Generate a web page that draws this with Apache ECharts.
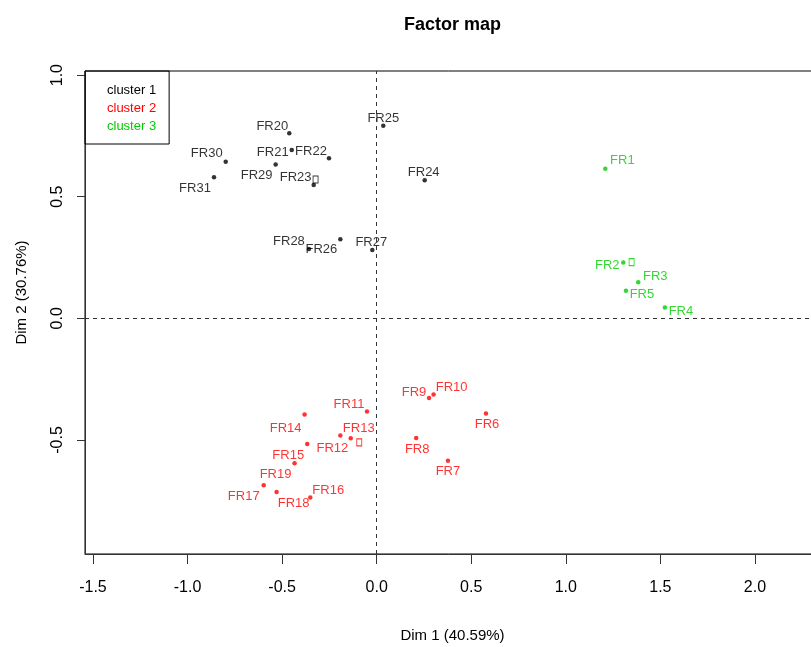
<!DOCTYPE html>
<html lang="en">
<head>
    <meta charset="UTF-8">
    <title>Factor map</title>
    <script src="https://cdn.jsdelivr.net/npm/echarts@6/dist/echarts.min.js"></script>
    <style>
        html, body {margin: 0; padding: 0; background: #fff;}
        #main {width: 811px; height: 647px;}
    </style>
</head>
<body>
<div id="main"></div>
<script>
    // cluster 1
    var names1 = ['FR20', 'FR21', 'FR22', 'FR23', 'FR24', 'FR25', 'FR26', 'FR27', 'FR28', 'FR29', 'FR30', 'FR31'];
    var dim1_1 = [-0.462, -0.449, -0.252, -0.333, 0.254, 0.035, -0.192, -0.023, -0.358, -0.534, -0.798, -0.860];
    var dim2_1 = [0.761, 0.692, 0.658, 0.548, 0.568, 0.792, 0.325, 0.281, 0.285, 0.633, 0.644, 0.580];
    // cluster 2
    var names2 = ['FR6', 'FR7', 'FR8', 'FR9', 'FR10', 'FR11', 'FR12', 'FR13', 'FR14', 'FR15', 'FR16', 'FR17', 'FR18', 'FR19'];
    var dim1_2 = [0.578, 0.377, 0.209, 0.277, 0.301, -0.051, -0.192, -0.137, -0.381, -0.367, -0.351, -0.597, -0.529, -0.434];
    var dim2_2 = [-0.391, -0.586, -0.492, -0.328, -0.313, -0.383, -0.482, -0.493, -0.395, -0.517, -0.737, -0.686, -0.714, -0.596];
    // cluster 3
    var names3 = ['FR1', 'FR2', 'FR3', 'FR4', 'FR5'];
    var dim1_3 = [1.209, 1.304, 1.383, 1.524, 1.318];
    var dim2_3 = [0.615, 0.230, 0.148, 0.045, 0.113];
    // cluster centres (squares)
    var centreDim1 = [-0.323, -0.092, 1.348];
    var centreDim2 = [0.571, -0.510, 0.231];

    var clusterNames = ['cluster 1', 'cluster 2', 'cluster 3'];
    var xTicks = [-1.5, -1.0, -0.5, 0.0, 0.5, 1.0, 1.5, 2.0];
    var yTicks = [-0.5, 0.0, 0.5, 1.0];

    var colors = ['#000000', '#ff0000', '#00cd00'];
    var font = 'Liberation Sans, Arial, sans-serif';

    // where each label sits relative to its point (px)
    var labelPos = {
        FR20: [-17, -7], FR21: [-19, 2], FR22: [-18, -7], FR23: [-18, -8], FR24: [-1, -8],
        FR25: [0, -7], FR26: [-19, 10], FR27: [-1, -8], FR28: [-20, -8], FR29: [-19, 11],
        FR30: [-19, -8], FR31: [-19, 11],
        FR6: [1, 11], FR7: [0, 11], FR8: [1, 11], FR9: [-15, -6], FR10: [18, -7],
        FR11: [-18, -7], FR12: [-8, 13], FR13: [8, -10], FR14: [-19, 14], FR15: [-19, 11],
        FR16: [18, -7], FR17: [-20, 11], FR18: [17, 11], FR19: [-19, 11],
        FR1: [17, -8], FR2: [-16, 3], FR3: [17, -6], FR4: [16, 4], FR5: [16, 4]
    };

    function makeData(names, xs, ys) {
        return names.map(function (n, i) {
            return {name: n, value: [xs[i], ys[i]], label: {offset: labelPos[n]}};
        });
    }

    var groups = [
        makeData(names1, dim1_1, dim2_1),
        makeData(names2, dim1_2, dim2_2),
        makeData(names3, dim1_3, dim2_3)
    ];

    var series = groups.map(function (d, k) {
        return {
            name: clusterNames[k],
            type: 'scatter',
            data: d,
            symbol: 'circle',
            symbolSize: 4.5,
            itemStyle: {color: colors[k]},
            label: {
                show: true,
                position: 'inside',
                formatter: '{b}',
                color: colors[k],
                fontSize: 13,
                fontFamily: font
            },
            silent: true
        };
    });

    // open squares at the cluster centres
    series.push({
        type: 'scatter',
        symbol: 'rect',
        symbolSize: [5, 7],
        data: centreDim1.map(function (x, k) {
            return {value: [x, centreDim2[k]], itemStyle: {color: 'rgba(0,0,0,0)', borderColor: colors[k], borderWidth: 1}};
        }),
        silent: true,
        z: 3
    });

    // dashed lines through the origin
    series.push({
        type: 'scatter',
        data: [],
        markLine: {
            silent: true,
            symbol: ['none', 'none'],
            label: {show: false},
            lineStyle: {type: [4, 4], color: '#333', width: 1},
            data: [{xAxis: 0}, {yAxis: 0}]
        }
    });

    var myChart = echarts.init(document.getElementById('main'));
    myChart.setOption({
        animation: false,
        backgroundColor: '#fff',
        title: {
            text: 'Factor map',
            left: 399,
            top: 11,
            textStyle: {fontSize: 18, fontWeight: 'bold', color: '#000', fontFamily: font}
        },
        legend: {
            orient: 'vertical',
            left: 85,
            top: 71,
            selectedMode: false,
            icon: 'none',
            itemWidth: 0,
            itemHeight: 15,
            itemGap: 4,
            padding: [12, 13, 11, 17],
            borderColor: '#000',
            borderWidth: 1,
            textStyle: {fontSize: 13, fontFamily: font},
            data: clusterNames.map(function (n, k) {
                return {name: n, textStyle: {color: colors[k]}};
            })
        },
        grid: {
            left: 85,
            top: 71,
            right: -9,
            bottom: 93,
            outerBoundsMode: 'none',
            show: true,
            borderColor: '#000',
            borderWidth: 1
        },
        xAxis: {
            type: 'value',
            min: -1.542,
            max: 2.344,
            name: 'Dim 1 (40.59%)',
            nameLocation: 'middle',
            nameGap: 74,
            nameTextStyle: {fontSize: 15, color: '#000', fontFamily: font},
            axisLine: {show: true, onZero: false, lineStyle: {color: '#333'}},
            axisTick: {show: true, length: 10, customValues: xTicks, lineStyle: {color: '#333'}},
            axisLabel: {
                customValues: xTicks,
                margin: 26,
                fontSize: 16,
                color: '#000',
                fontFamily: font,
                formatter: function (v) { return v.toFixed(1); }
            },
            splitLine: {show: false}
        },
        yAxis: {
            type: 'value',
            min: -0.969,
            max: 1.017,
            name: 'Dim 2 (30.76%)',
            nameLocation: 'middle',
            nameGap: 56,
            nameTextStyle: {fontSize: 15, color: '#000', fontFamily: font, padding: [0, 0, 0, 40]},
            axisLine: {show: true, onZero: false, lineStyle: {color: '#333'}},
            axisTick: {show: true, length: 8, customValues: yTicks, lineStyle: {color: '#333'}},
            axisLabel: {
                customValues: yTicks,
                rotate: 90,
                margin: 19,
                fontSize: 16,
                color: '#000',
                fontFamily: font,
                formatter: function (v) { return v.toFixed(1); }
            },
            splitLine: {show: false}
        },
        series: series
    });
</script>
</body>
</html>
